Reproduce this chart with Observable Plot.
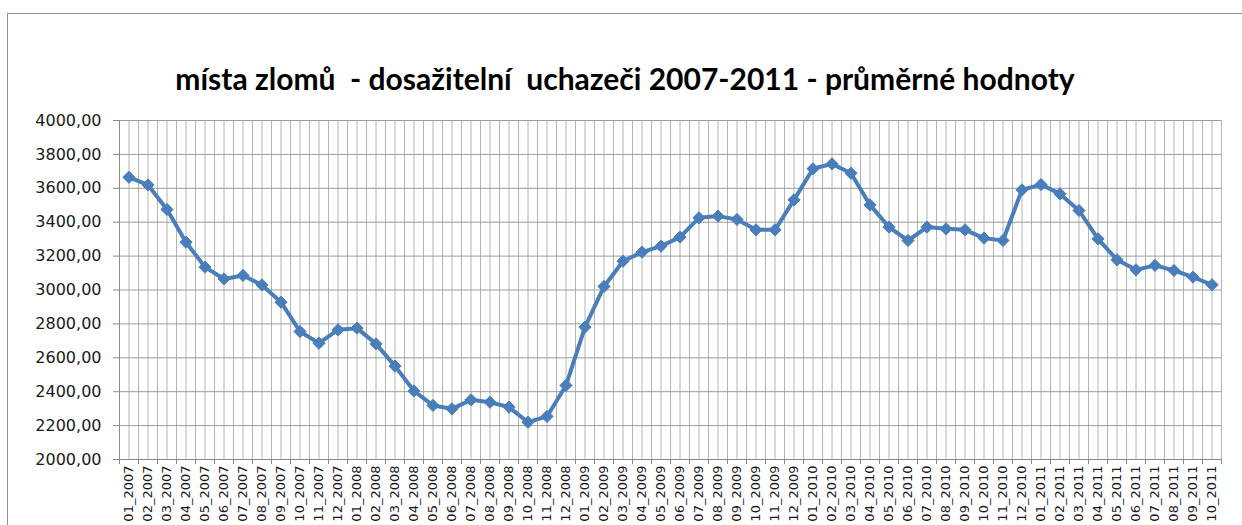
<!DOCTYPE html>
<html>
<head>
<meta charset="utf-8">
<script src="https://cdn.jsdelivr.net/npm/d3@7"></script>
<script src="https://cdn.jsdelivr.net/npm/@observablehq/plot@0.6"></script>
<style>
  html, body { margin: 0; padding: 0; background: #fff; }
  #wrap { position: relative; width: 1242px; height: 525px; overflow: hidden; background: #fff; }
  #frame { position: absolute; left: 7px; top: 13px; width: 1300px; height: 600px; border: 1px solid #8f8f8f; box-sizing: border-box; }
  #title { position: absolute; left: 0; top: 0; width: 1250px; height: 100px; text-align: center; white-space: pre;
           font-family: Lato, "Open Sans", sans-serif; font-weight: bold; font-size: 30px; line-height: 36px;
           padding-top: 60px; box-sizing: border-box; color: #000; }
  #chart { position: absolute; left: 0; top: 100px; }
  #chart svg text { fill: #1a1a1a; }
</style>
</head>
<body>
<div id="wrap">
  <div id="frame"></div>
  <div id="title">místa zlomů  - dosažitelní  uchazeči 2007-2011 - průměrné hodnoty</div>
  <div id="chart"></div>
</div>
<script>
const labels = [
  "01_2007","02_2007","03_2007","04_2007","05_2007","06_2007","07_2007","08_2007","09_2007","10_2007","11_2007","12_2007",
  "01_2008","02_2008","03_2008","04_2008","05_2008","06_2008","07_2008","08_2008","09_2008","10_2008","11_2008","12_2008",
  "01_2009","02_2009","03_2009","04_2009","05_2009","06_2009","07_2009","08_2009","09_2009","10_2009","11_2009","12_2009",
  "01_2010","02_2010","03_2010","04_2010","05_2010","06_2010","07_2010","08_2010","09_2010","10_2010","11_2010","12_2010",
  "01_2011","02_2011","03_2011","04_2011","05_2011","06_2011","07_2011","08_2011","09_2011","10_2011"
];
const values = [
  3665,3620,3475,3282,3135,3065,3086,3030,2928,2755,2686,2765,
  2775,2682,2551,2404,2319,2299,2352,2338,2309,2220,2254,2437,
  2781,3021,3170,3223,3259,3312,3426,3436,3416,3355,3355,3532,
  3715,3744,3689,3502,3371,3292,3371,3361,3355,3306,3292,3591,
  3622,3567,3469,3302,3178,3119,3145,3115,3076,3031
];
const yTicks = [2000,2200,2400,2600,2800,3000,3200,3400,3600,3800,4000];

const data = labels.map((label, i) => ({i, label, v: values[i]}));
const n = labels.length;
const centers = d3.range(0, n);
const bounds = d3.range(-0.5, n, 1);
const gridX = d3.range(-0.5, n, 0.5);

const blue = "#4a7ebb";

const chart = Plot.plot({
  width: 1242,
  height: 425,
  marginTop: 20,
  marginLeft: 119,
  marginRight: 21,
  marginBottom: 66,
  style: {fontFamily: "'DejaVu Sans', sans-serif", background: "transparent", overflow: "visible"},
  x: {type: "linear", domain: [-0.5, n - 0.5], axis: null},
  y: {domain: [2000, 4000], axis: null},
  marks: [
    Plot.ruleX(gridX, {stroke: "#b4b4b4", strokeWidth: 1}),
    Plot.ruleY(yTicks, {stroke: "#9c9c9c", strokeWidth: 1}),
    Plot.ruleX([-0.5], {stroke: "#8a8a8a", strokeWidth: 1}),
    Plot.ruleY([2000], {stroke: "#8a8a8a", strokeWidth: 1}),
    Plot.axisY({ticks: yTicks, tickSize: 6, tickPadding: 12, stroke: "#8a8a8a", label: null,
      tickFormat: d => d.toFixed(2).replace(".", ","), fontSize: 16}),
    Plot.axisX({ticks: bounds, tickSize: 5, tickFormat: () => "", stroke: "#8a8a8a", label: null}),
    Plot.axisX({ticks: centers, tickSize: 0, tickPadding: 6, tickRotate: -90, label: null,
      tickFormat: i => labels[i], fontSize: 13}),
    Plot.line(data, {x: "i", y: "v", stroke: blue, strokeWidth: 4, strokeLinejoin: "round"}),
    Plot.dot(data, {x: "i", y: "v", symbol: "diamond2", r: 5.5, fill: blue, stroke: blue, strokeWidth: 1})
  ]
});
document.getElementById("chart").appendChild(chart);
</script>
</body>
</html>
